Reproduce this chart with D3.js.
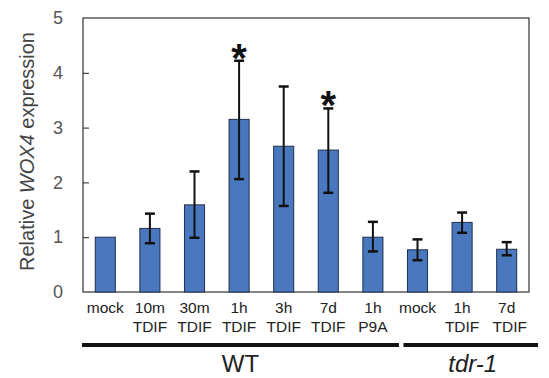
<!DOCTYPE html>
<html>
<head>
<meta charset="utf-8">
<script src="https://cdn.jsdelivr.net/npm/d3@7"></script>
<style>
  body { margin: 0; background: #fff; }
  svg { display: block; font-family: Arial, "Liberation Sans", sans-serif; }
</style>
</head>
<body>
<svg id="chart" width="549" height="378"></svg>
<script>
// bar labels (two lines each)
var line1 = ["mock", "10m", "30m", "1h", "3h", "7d", "1h", "mock", "1h", "7d"];
var line2 = ["", "TDIF", "TDIF", "TDIF", "TDIF", "TDIF", "P9A", "", "TDIF", "TDIF"];
var means = [1.00, 1.16, 1.59, 3.15, 2.66, 2.59, 1.00, 0.77, 1.27, 0.78];
var errHi = [null, 1.43, 2.20, 4.22, 3.75, 3.35, 1.28, 0.96, 1.45, 0.91];
var errLo = [null, 0.89, 0.99, 2.06, 1.57, 1.81, 0.74, 0.58, 1.08, 0.67];
var signif = [false, false, false, true, false, true, false, false, false, false];
var yTicks = [0, 1, 2, 3, 4, 5];
var groups = [{name: "WT", from: 0, to: 6, italic: false}, {name: "tdr-1", from: 7, to: 9, italic: true}];

var margin = {left: 83, top: 18, right: 20, bottom: 86},
    width = 549 - margin.left - margin.right,
    height = 378 - margin.top - margin.bottom;

var svg = d3.select("#chart");
var g = svg.append("g").attr("transform", "translate(" + margin.left + "," + margin.top + ")");

var idx = d3.range(means.length);
var x = d3.scaleBand().domain(idx).range([0, width]).paddingInner(0.55).paddingOuter(0.275);
var y = d3.scaleLinear().domain([0, 5]).range([height, 0]);

// frame
g.append("rect")
  .attr("x", 0).attr("y", 0)
  .attr("width", width).attr("height", height)
  .attr("fill", "none").attr("stroke", "#333").attr("stroke-width", 1.2);

// y axis, ticks inside
var yAxis = g.append("g")
  .call(d3.axisLeft(y).tickValues(yTicks).tickSize(-6).tickPadding(20).tickFormat(d3.format("d")));
yAxis.select(".domain").remove();
yAxis.selectAll(".tick line").attr("stroke", "#222");
yAxis.selectAll(".tick text").attr("font-size", 18).attr("fill", "#555").attr("font-family", "Arial, 'Liberation Sans', sans-serif");
yAxis.selectAll(".tick").filter(function(d) { return d === 0 || d === 5; }).select("line").remove();

// bars
g.selectAll(".bar").data(idx).enter().append("rect")
  .attr("class", "bar")
  .attr("x", function(i) { return x(i); })
  .attr("width", x.bandwidth())
  .attr("y", function(i) { return y(means[i]); })
  .attr("height", function(i) { return height - y(means[i]); })
  .attr("fill", "#4a78bf").attr("stroke", "#1f2f4f").attr("stroke-width", 1);

// error bars
var eb = idx.filter(function(i) { return errHi[i] !== null; });
var cap = 5;
eb.forEach(function(i) {
  var cx = x(i) + x.bandwidth() / 2;
  g.append("line").attr("x1", cx).attr("x2", cx)
    .attr("y1", y(errLo[i])).attr("y2", y(errHi[i]))
    .attr("stroke", "#111").attr("stroke-width", 2);
  [errLo[i], errHi[i]].forEach(function(v) {
    g.append("line").attr("x1", cx - cap).attr("x2", cx + cap)
      .attr("y1", y(v)).attr("y2", y(v))
      .attr("stroke", "#111").attr("stroke-width", 2.5);
  });
});

// asterisks
idx.filter(function(i) { return signif[i]; }).forEach(function(i) {
  g.append("text")
    .attr("x", x(i) + x.bandwidth() / 2)
    .attr("y", y(errHi[i]) + 11)
    .attr("text-anchor", "middle")
    .attr("font-size", 40).attr("font-weight", "bold").attr("fill", "#111")
    .text("*");
});

// category labels
idx.forEach(function(i) {
  var cx = x(i) + x.bandwidth() / 2;
  var t = g.append("text").attr("text-anchor", "middle").attr("font-size", 15.5).attr("fill", "#222");
  t.append("tspan").attr("x", cx).attr("y", height + 21).text(line1[i]);
  if (line2[i]) t.append("tspan").attr("x", cx + (i === 9 ? 3 : 0)).attr("y", height + 40).text(line2[i]);
});

// group lines and names
groups.forEach(function(gr, k) {
  var x0 = k === 0 ? -1 : x(gr.from) - 4;
  var x1 = k === 0 ? x(gr.to) + x.bandwidth() + 16 : width + 9;
  g.append("line").attr("x1", x0).attr("x2", x1)
    .attr("y1", height + 53).attr("y2", height + 53)
    .attr("stroke", "#111").attr("stroke-width", 4);
  g.append("text")
    .attr("x", (x0 + x1) / 2 + (k === 0 ? 0 : 2))
    .attr("y", height + 80)
    .attr("text-anchor", "middle")
    .attr("font-size", 24).attr("fill", "#222")
    .attr("font-style", gr.italic ? "italic" : "normal")
    .text(gr.name);
});

// y title
var yt = svg.append("text")
  .attr("transform", "translate(33.5,151.5) rotate(-90)")
  .attr("text-anchor", "middle")
  .attr("font-size", 20).attr("fill", "#444");
yt.append("tspan").text("Relative ");
yt.append("tspan").attr("font-style", "italic").text("WOX4");
yt.append("tspan").text(" expression");
</script>
</body>
</html>
